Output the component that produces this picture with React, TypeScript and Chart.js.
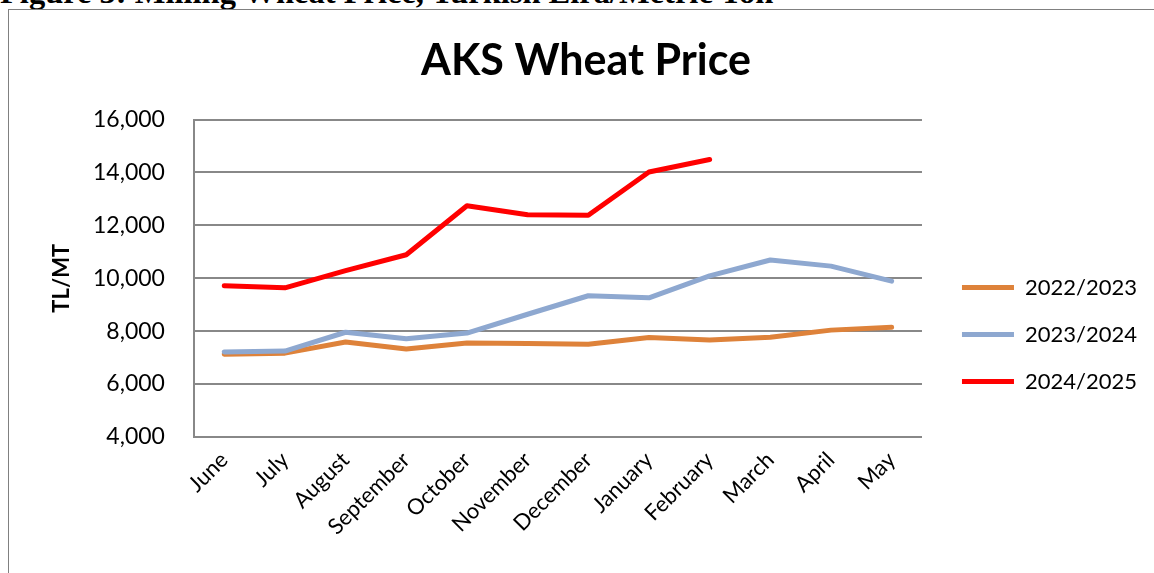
import { useEffect, useRef } from 'react';
import { Chart, registerables } from 'chart.js';

Chart.register(...registerables);

const months = ['June', 'July', 'August', 'September', 'October', 'November', 'December', 'January', 'February', 'March', 'April', 'May'];
const seriesNames = ['2022/2023', '2023/2024', '2024/2025'];
const price2022 = [7130, 7170, 7590, 7330, 7550, 7530, 7510, 7760, 7670, 7770, 8040, 8150];
const price2023 = [7210, 7250, 7960, 7710, 7930, 8640, 9340, 9260, 10090, 10690, 10460, 9890];
const price2024 = [9720, 9640, 10290, 10890, 12740, 12400, 12380, 14020, 14490, null, null, null];
const seriesColors = ['#DE823A', '#8EA8D0', '#FF0000'];
const yMin = 4000;
const yMax = 16000;
const yStep = 2000;

const FONT = 'Lato, "Open Sans", sans-serif';

// moves the legend a little away from the plot area (Excel-like gap)
const legendGap = {
  id: 'legendGap',
  afterLayout(chart: any) {
    const lg = chart.legend;
    if (lg) {
      lg.left += 15;
      lg.right += 15;
    }
  },
};

export default function App() {
  const ref = useRef<HTMLCanvasElement>(null);

  useEffect(() => {
    const values = [price2022, price2023, price2024];
    const chart = new Chart(ref.current!, {
      type: 'line',
      data: {
        labels: months,
        datasets: seriesNames.map((name, i) => ({
          label: name,
          data: values[i],
          borderColor: seriesColors[i],
          backgroundColor: seriesColors[i],
          borderWidth: 5,
          borderCapStyle: 'round' as const,
          borderJoinStyle: 'round' as const,
          pointRadius: 0,
          pointHoverRadius: 0,
          tension: 0,
          spanGaps: false,
          order: 3 - i,
        })),
      },
      plugins: [legendGap],
      options: {
        animation: false,
        responsive: false,
        maintainAspectRatio: false,
        layout: { padding: { top: 20, left: 31, right: 22, bottom: 23 } },
        plugins: {
          title: {
            display: true,
            text: 'AKS Wheat Price',
            color: '#000',
            font: { family: FONT, size: 43, weight: 'bold' },
            padding: { top: 5, bottom: 33 },
          },
          legend: {
            display: true,
            position: 'right',
            title: { display: true, text: '', font: { size: 1 }, padding: 44 },
            labels: {
              color: '#000',
              font: { family: FONT, size: 22 },
              usePointStyle: true,
              pointStyle: 'line',
              pointStyleWidth: 52,
              padding: 25,
              sort: (a: any, b: any) => a.datasetIndex - b.datasetIndex,
            },
          },
          tooltip: { enabled: false },
        },
        scales: {
          x: {
            offset: true,
            grid: { display: false, drawTicks: false },
            border: { display: true, color: '#888888', width: 2 },
            ticks: {
              color: '#000',
              font: { family: FONT, size: 22 },
              minRotation: 45,
              maxRotation: 45,
              autoSkip: false,
              padding: 10,
            },
          },
          y: {
            min: yMin,
            max: yMax,
            grid: { color: '#888888', lineWidth: 2, drawTicks: false },
            border: { display: true, color: '#888888', width: 2 },
            ticks: {
              stepSize: yStep,
              color: '#000',
              font: { family: FONT, size: 23 },
              padding: 29,
              callback: (v: any) => Number(v).toLocaleString('en-US'),
            },
            title: {
              display: true,
              text: 'TL/MT',
              color: '#000',
              font: { family: FONT, size: 22, weight: 'bold', lineHeight: 1 },
              padding: { top: 11, bottom: -9 },
            },
          },
        },
      },
    });
    return () => chart.destroy();
  }, []);

  return (
    <div style={{ position: 'fixed', inset: 0, overflow: 'hidden', background: '#fff' }}>
      <div
        style={{
          position: 'absolute',
          left: 0,
          top: -24,
          font: 'bold 32.5px/32px "Liberation Serif", "Times New Roman", serif',
          whiteSpace: 'nowrap',
          color: '#000',
        }}
      >
        Figure 3: Milling Wheat Price, Turkish Lira/Metric Ton
      </div>
      <div
        style={{
          position: 'absolute',
          left: 8,
          top: 9,
          width: 1300,
          height: 800,
          border: '1px solid #808080',
        }}
      />
      <canvas ref={ref} width={1145} height={563} style={{ position: 'absolute', left: 9, top: 10 }} />
    </div>
  );
}
